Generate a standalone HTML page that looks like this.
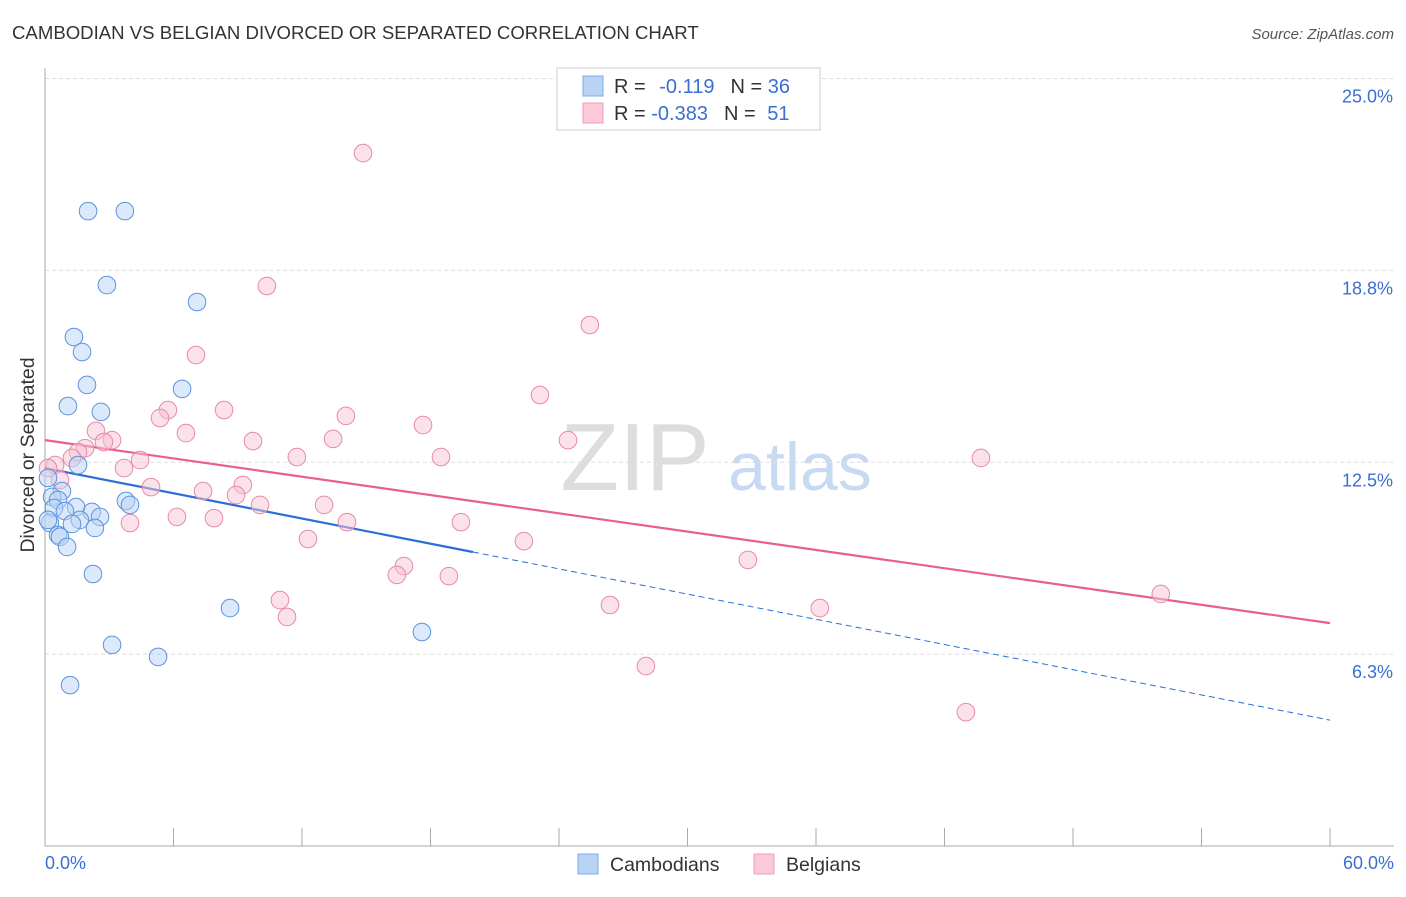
<!DOCTYPE html>
<html><head><meta charset="utf-8"><style>
body{margin:0;background:#fff;font-family:"Liberation Sans",sans-serif}
svg text{font-family:"Liberation Sans",sans-serif}
</style></head><body>
<svg id="chart" width="1406" height="892">
<text x="12" y="39" font-size="18.6" fill="#333">CAMBODIAN VS BELGIAN DIVORCED OR SEPARATED CORRELATION CHART</text>
<text x="1394" y="39" font-size="15" fill="#555" font-style="italic" text-anchor="end">Source: ZipAtlas.com</text>
<text x="635" y="490" font-size="96" fill="#ddd" font-family="Liberation Serif" text-anchor="middle">ZIP</text>
<text x="800" y="490" font-size="68" fill="#c8daf2" text-anchor="middle">atlas</text>
<g id="grid"></g><g id="axes"></g><g id="trends"></g><g id="pts"></g>
<text transform="translate(34,455) rotate(-90)" font-size="19.5" fill="#333" text-anchor="middle">Divorced or Separated</text>
<text x="45" y="869" font-size="18" fill="#3b6fd1">0.0%</text>
<text x="1394" y="869" font-size="18" fill="#3b6fd1" text-anchor="end">60.0%</text>
<g>
<rect x="557" y="68" width="263" height="62" fill="#fff" stroke="#ccc"/>
<rect x="583" y="76" width="20" height="20" fill="#b9d3f5" stroke="#7fa8e6"/>
<rect x="583" y="103" width="20" height="20" fill="#fbc9d8" stroke="#eea0b8"/>
<text x="614" y="93" font-size="20" fill="#333">R = <tspan fill="#3b6fd1" dx="8">-0.119</tspan><tspan dx="16" fill="#333">N = </tspan><tspan fill="#3b6fd1">36</tspan></text>
<text x="614" y="120" font-size="20" fill="#333">R = <tspan fill="#3b6fd1">-0.383</tspan><tspan dx="16" fill="#333">N = </tspan><tspan fill="#3b6fd1" dx="6">51</tspan></text>
</g>
<g>
<rect x="578" y="854" width="20" height="20" fill="#b9d3f5" stroke="#7fa8e6"/>
<text x="610" y="871" font-size="19.5" fill="#333">Cambodians</text>
<rect x="754" y="854" width="20" height="20" fill="#fbc9d8" stroke="#eea0b8"/>
<text x="786" y="871" font-size="19.5" fill="#333">Belgians</text>
</g>
</svg>
<script>
const yTicks=[25,18.75,12.5,6.25];
const yTickLabels=["25.0%","18.8%","12.5%","6.3%"];
const xTicks=[0,6,12,18,24,30,36,42,48,54,60];
const cambX=[2.01,3.73,2.89,7.10,1.35,1.73,1.96,6.40,1.07,2.61,1.54,0.14,0.79,0.33,0.61,1.45,0.42,0.93,2.19,3.78,3.97,2.57,1.63,0.23,1.26,2.33,0.61,0.70,1.03,2.24,8.64,17.60,3.13,5.28,1.17,0.14];
const cambY=[20.68,20.68,18.27,17.72,16.58,16.09,15.02,14.89,14.33,14.14,12.41,11.99,11.56,11.37,11.27,11.04,11.01,10.91,10.88,11.24,11.11,10.72,10.62,10.52,10.49,10.36,10.13,10.07,9.74,8.86,7.75,6.97,6.55,6.16,5.24,10.62];
const belgX=[14.85,10.36,25.44,7.05,23.11,5.74,8.36,5.37,14.05,17.65,6.58,2.38,3.13,2.75,13.45,9.71,24.42,1.87,1.54,1.26,4.44,11.76,18.49,43.70,0.47,0.14,3.69,0.70,4.95,9.24,7.38,8.92,10.04,13.03,6.16,7.89,14.10,19.42,3.97,12.28,22.36,32.82,16.76,16.43,18.86,10.97,26.38,36.18,11.30,52.10,28.06,43.00];
const belgY=[22.57,18.24,16.97,15.99,14.69,14.20,14.20,13.94,14.01,13.71,13.45,13.52,13.22,13.16,13.26,13.19,13.22,12.96,12.83,12.64,12.57,12.67,12.67,12.64,12.41,12.31,12.31,11.92,11.69,11.76,11.56,11.43,11.11,11.11,10.72,10.68,10.55,10.55,10.52,10.00,9.93,9.32,9.12,8.83,8.79,8.01,7.85,7.75,7.46,8.21,5.86,4.36];
const cambTrend=[12.31,4.10]; const cambSolidEnd=19.98;
const belgTrend=[13.22,7.26];
const X=v=>45+v*(1285/60), Y=v=>846-v*30.7;
const NS="http://www.w3.org/2000/svg";
function mk(p,t,a){const e=document.createElementNS(NS,t);for(const k in a)e.setAttribute(k,a[k]);document.getElementById(p).appendChild(e);return e;}
yTicks.forEach((t,i)=>{
 const l=mk('grid','line',{x1:45,x2:1394,y1:Y(t),y2:Y(t),stroke:'#ddd','stroke-dasharray':'4,3'});
 
 
 const tx=mk('grid','text',{x:1393,y:Y(t)+24,'font-size':18,fill:'#3b6fd1','text-anchor':'end'});
 tx.textContent=yTickLabels[i];
 
 
});
const ax=mk('axes','line',{x1:45,x2:45,y1:68,y2:846,stroke:'#aaa'});


const bx=mk('axes','line',{x1:45,x2:1394,y1:846,y2:846,stroke:'#aaa'});


xTicks.forEach(t=>{
 const l=mk('axes','line',{x1:X(t),x2:X(t),y1:828,y2:846,stroke:'#aaa'});
 
 
});
function pts(xs,ys,fill,stroke,name){xs.forEach((x,i)=>{
 const c=mk('pts','circle',{cx:X(x),cy:Y(ys[i]),r:8.8,fill:fill,stroke:stroke,'stroke-width':1,'fill-opacity':0.5});
 
 
});}
pts(belgX,belgY,'#f8c3d3','#e88aa8','belgian-point');
pts(cambX,cambY,'#b9d3f5','#5b93df','cambodian-point');
const bt=mk('trends','line',{x1:X(0),y1:Y(belgTrend[0]),x2:X(60),y2:Y(belgTrend[1]),stroke:'#e8608f','stroke-width':2.2});


const cy=v=>cambTrend[0]+(cambTrend[1]-cambTrend[0])*v/60;
const ct=mk('trends','line',{x1:X(0),y1:Y(cambTrend[0]),x2:X(cambSolidEnd),y2:Y(cy(cambSolidEnd)),stroke:'#2a6fd6','stroke-width':2.2});


const cd=mk('trends','line',{x1:X(cambSolidEnd),y1:Y(cy(cambSolidEnd)),x2:X(60),y2:Y(cambTrend[1]),stroke:'#2a6fd6','stroke-width':1,'stroke-dasharray':'6,4'});


</script>
</body></html>
